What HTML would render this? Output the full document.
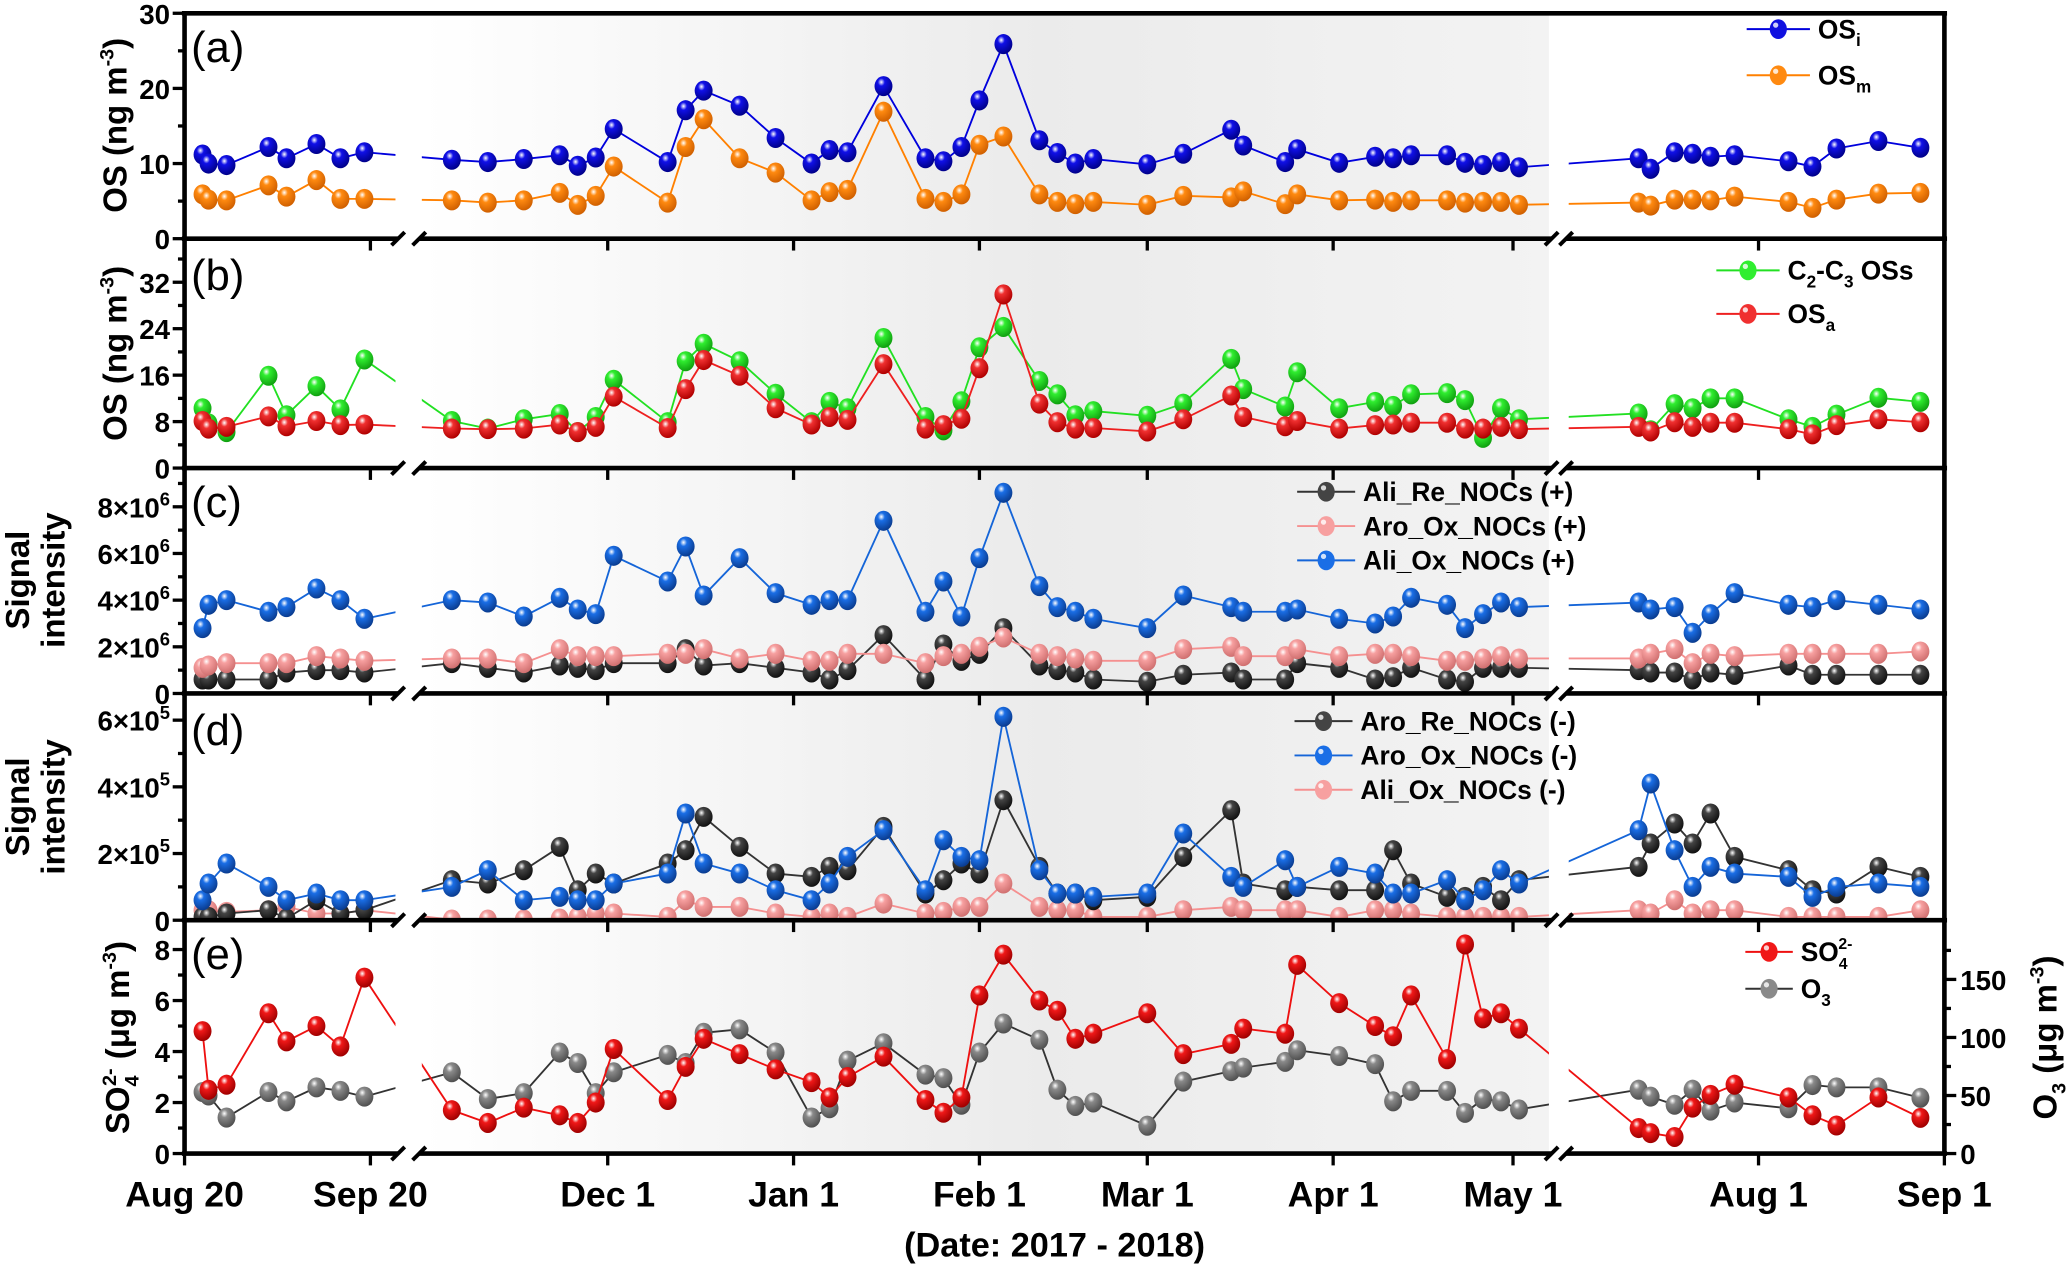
<!DOCTYPE html>
<html><head><meta charset="utf-8"><style>
html,body{margin:0;padding:0;background:#fff;}
svg{display:block;}
text{font-family:"Liberation Sans Narrow","Liberation Sans",sans-serif;}
</style></head><body>
<svg id="chart" width="2067" height="1267" viewBox="0 0 1568 961" xmlns="http://www.w3.org/2000/svg">
<defs id="defs">
<linearGradient id="bgmid" x1="0" x2="1" y1="0" y2="0">
<stop offset="0" stop-color="#ffffff"/><stop offset="0.55" stop-color="#ebebeb"/><stop offset="1" stop-color="#f3f3f3"/>
</linearGradient>
</defs>
<g id="bg"></g>
<g id="marks"></g>
<g id="axes"></g>
</svg>
<script>
// ---- data (days since 2017-08-20) ----
const dates = [3,4,7,14,17,22,26,30,
 77,83,89,95,98,101,104,113,116,119,125,131,137,140,143,149,156,159,162,165,169,175,178,181,184,193,199,207,209,216,218,225,231,234,237,243,246,249,252,255,
 326,328,332,335,338,342,351,355,359,366,373];
const tickDays = [0,31,103,134,165,193,224,254,346,377];
const tickLabels = ["Aug 20","Sep 20","Dec 1","Jan 1","Feb 1","Mar 1","Apr 1","May 1","Aug 1","Sep 1"];

const osI = [11.2,10,9.8,12.2,10.7,12.6,10.7,11.5,
 10.5,10.2,10.6,11.1,9.7,10.8,14.6,10.2,17.1,19.7,17.7,13.4,10,11.8,11.5,20.3,10.7,10.3,12.2,18.4,25.9,13.1,11.4,10,10.6,9.9,11.3,14.5,12.4,10.2,11.9,10.1,10.9,10.7,11.1,11.1,10.1,9.8,10.2,9.5,
 10.7,9.3,11.5,11.3,10.9,11.1,10.3,9.6,12,13,12.1];
const osM = [5.9,5.2,5.1,7.1,5.6,7.8,5.3,5.3,
 5.1,4.8,5.1,6.1,4.5,5.7,9.6,4.8,12.2,15.9,10.7,8.8,5.1,6.2,6.5,16.9,5.3,4.9,5.9,12.5,13.6,5.9,4.9,4.6,4.9,4.5,5.7,5.5,6.3,4.6,5.9,5.1,5.2,4.9,5.1,5.1,4.8,4.9,4.9,4.5,
 4.8,4.4,5.2,5.2,5.1,5.6,4.9,4.1,5.2,6,6.1];
const c2c3 = [10.3,7.7,6.2,15.9,9.1,14.1,10.1,18.7,
 8.1,6.8,8.4,9.3,6.2,8.8,15.2,7.9,18.4,21.4,18.4,12.8,7.9,11.4,10.3,22.4,8.8,6.5,11.5,20.8,24.3,15,12.7,9.1,9.8,9,11.1,18.8,13.6,10.6,16.5,10.3,11.4,10.7,12.7,12.9,11.7,5.2,10.3,8.4,
 9.4,6.5,11,10.3,12,12,8.4,7.1,9.2,12.1,11.4];
const osA = [8.1,6.8,7.1,8.9,7.2,8.1,7.4,7.5,
 6.8,6.7,6.8,7.5,6.2,7.1,12.3,6.9,13.6,18.6,15.9,10.3,7.5,8.8,8.3,17.9,6.8,7.4,8.5,17.2,29.9,11.1,7.9,6.8,6.9,6.3,8.4,12.5,8.8,7.2,8.1,6.8,7.4,7.5,7.8,7.8,6.8,6.8,7.1,6.7,
 7.1,6.3,7.9,7.1,7.8,7.8,6.7,5.8,7.4,8.4,7.9];
// panel c, units of 1e6
const aliReP = [0.6,0.6,0.6,0.6,0.9,1.0,1.0,0.9,
 1.3,1.1,0.9,1.2,1.1,1.0,1.3,1.3,1.9,1.2,1.3,1.1,0.9,0.6,1.0,2.5,0.6,2.1,1.4,1.7,2.8,1.2,1.0,0.9,0.6,0.5,0.8,0.9,0.6,0.6,1.3,1.1,0.6,0.7,1.1,0.6,0.5,1.1,1.1,1.1,
 1.0,0.9,0.9,0.6,0.9,0.8,1.2,0.8,0.8,0.8,0.8];
const aroOxP = [1.1,1.2,1.3,1.3,1.3,1.6,1.5,1.4,
 1.5,1.5,1.3,1.9,1.6,1.6,1.6,1.7,1.7,1.9,1.5,1.7,1.4,1.4,1.7,1.7,1.3,1.6,1.7,2.0,2.4,1.7,1.6,1.5,1.4,1.4,1.9,2.0,1.6,1.6,1.9,1.6,1.7,1.7,1.6,1.4,1.4,1.5,1.6,1.5,
 1.5,1.7,1.9,1.3,1.7,1.6,1.7,1.7,1.7,1.7,1.8];
const aliOxP = [2.8,3.8,4.0,3.5,3.7,4.5,4.0,3.2,
 4.0,3.9,3.3,4.1,3.6,3.4,5.9,4.8,6.3,4.2,5.8,4.3,3.8,4.0,4.0,7.4,3.5,4.8,3.3,5.8,8.6,4.6,3.7,3.5,3.2,2.8,4.2,3.7,3.5,3.5,3.6,3.2,3.0,3.3,4.1,3.8,2.8,3.4,3.9,3.7,
 3.9,3.6,3.7,2.6,3.4,4.3,3.8,3.7,4.0,3.8,3.6];
// panel d, units of 1e5
const aroReN = [0.1,0.1,0.2,0.3,0.05,0.6,0.2,0.3,
 1.2,1.1,1.5,2.2,0.9,1.4,1.1,1.7,2.1,3.1,2.2,1.4,1.3,1.6,1.5,2.8,0.8,1.2,1.7,1.4,3.6,1.6,0.8,0.8,0.6,0.7,1.9,3.3,1.1,0.9,1.0,0.9,0.9,2.1,1.1,0.7,0.7,1.0,0.6,1.2,
 1.6,2.3,2.9,2.3,3.2,1.9,1.5,0.9,0.8,1.6,1.3];
const aroOxN = [0.6,1.1,1.7,1.0,0.6,0.8,0.6,0.6,
 1.0,1.5,0.6,0.7,0.6,0.6,1.1,1.4,3.2,1.7,1.4,0.9,0.6,1.1,1.9,2.7,0.9,2.4,1.9,1.8,6.1,1.5,0.8,0.8,0.7,0.8,2.6,1.3,1.0,1.8,1.0,1.6,1.4,0.8,0.8,1.2,0.6,0.9,1.5,1.1,
 2.7,4.1,2.1,1.0,1.6,1.4,1.3,0.7,1.0,1.1,1.0];
const aliOxN = [0.3,0.3,0.25,0.3,0.4,0.2,0.2,0.3,
 0.02,0.02,0.02,0.05,0.1,0.2,0.2,0.1,0.6,0.4,0.4,0.2,0.1,0.2,0.1,0.5,0.2,0.25,0.4,0.4,1.1,0.4,0.3,0.3,0.1,0.1,0.3,0.4,0.3,0.3,0.3,0.1,0.3,0.3,0.2,0.1,0.1,0.1,0.1,0.1,
 0.3,0.2,0.6,0.2,0.3,0.3,0.1,0.1,0.1,0.1,0.3];
const so4 = [4.8,2.5,2.7,5.5,4.4,5.0,4.2,6.9,
 1.7,1.2,1.8,1.5,1.2,2.0,4.1,2.1,3.4,4.5,3.9,3.3,2.8,2.2,3.0,3.8,2.1,1.6,2.2,6.2,7.8,6.0,5.6,4.5,4.7,5.5,3.9,4.3,4.9,4.7,7.4,5.9,5.0,4.6,6.2,3.7,8.2,5.3,5.5,4.9,
 1.0,0.8,0.65,1.8,2.3,2.7,2.2,1.5,1.1,2.2,1.4];
const o3 = [53,50,31,53,45,57,54,49,
 70,47,52,87,78,52,70,85,78,104,107,87,31,39,80,95,68,65,42,87,112,98,55,41,44,24,62,71,74,79,89,84,77,45,54,54,35,47,45,38,
 55,49,42,55,37,44,39,59,57,57,48];

// ---- layout ----
const NS="http://www.w3.org/2000/svg";
const L=140,R=1475, PX=4.548;
const segs=[[140,300],[320,1175],[1190,1475]];
function xOf(d){ if(d<60) return 140+d*PX; if(d<300) return 461+(d-103)*PX; return 1334+(d-346)*PX; }
const panels={
 a:{top:10,bot:181,max:30},
 b:{top:181,bot:355,max:39.5},
 c:{top:355,bot:526,max:9.66},
 d:{top:526,bot:698,max:6.8},
 e:{top:698,bot:875,max:9.15},
 e2:{top:698,bot:875,max:201}
};
function yOf(p,v){const P=panels[p];return P.bot-(v/P.max)*(P.bot-P.top);}
function mk(tag,attrs,parent){const e=document.createElementNS(NS,tag);for(const k in attrs)e.setAttribute(k,attrs[k]);if(parent)parent.appendChild(e);return e;}
const defs=document.getElementById('defs'), bgG=document.getElementById('bg'), marks=document.getElementById('marks'), axes=document.getElementById('axes');

mk('rect',{x:320,y:10,width:855,height:865,fill:'url(#bgmid)'},bgG);
['a','b','c','d','e'].forEach(p=>{
 const P=panels[p]; const cp=mk('clipPath',{id:'clip-'+p},defs);
 segs.forEach(s=>mk('rect',{x:s[0],y:P.top,width:s[1]-s[0],height:P.bot-P.top},cp));
});
let gid=0;
function grad(col,dark){const id='g'+(gid++);const g=mk('radialGradient',{id:id,cx:'0.38',cy:'0.3',r:'0.7'},defs);
 mk('stop',{offset:'0','stop-color':'#ffffff'},g);mk('stop',{offset:'0.28','stop-color':col},g);mk('stop',{offset:'1','stop-color':dark},g);return id;}

function series(p,yp,vals,line,col,dark,name){
 const g=mk('g',{'clip-path':'url(#clip-'+p+')'},marks);
 
 
 const pts=vals.map((v,i)=>xOf(dates[i]).toFixed(1)+','+yOf(yp,v).toFixed(1)).join(' ');
 const pl=mk('polyline',{points:pts,fill:'none',stroke:line,'stroke-width':1.4},g);
 
 
 const gi=grad(col,dark);
 vals.forEach((v,i)=>{const c=mk('ellipse',{cx:xOf(dates[i]),cy:yOf(yp,v),rx:6.8,ry:7.6,fill:'url(#'+gi+')'},g);
  
  });
}
series('a','a',osM,'#ff8000','#ff8a10','#d06000','os-m');
series('a','a',osI,'#0000dd','#1010e8','#00008a','os-i');
series('b','b',c2c3,'#22e022','#30ee30','#10a010','c2-c3-oss');
series('b','b',osA,'#ee2020','#f03030','#b00000','os-a');
series('c','c',aliReP,'#333333','#444444','#111111','ali-re-nocs-pos');
series('c','c',aroOxP,'#f59090','#f7a0a0','#d07070','aro-ox-nocs-pos');
series('c','c',aliOxP,'#1565d8','#1a6ee6','#0a3c90','ali-ox-nocs-pos');
series('d','d',aliOxN,'#f59090','#f7a0a0','#d07070','ali-ox-nocs-neg');
series('d','d',aroReN,'#333333','#444444','#111111','aro-re-nocs-neg');
series('d','d',aroOxN,'#1565d8','#1a6ee6','#0a3c90','aro-ox-nocs-neg');
series('e','e2',o3,'#333333','#8a8a8a','#505050','o3');
series('e','e',so4,'#ee1010','#f01818','#a00000','so4');

function line(x1,y1,x2,y2,w,parent,col){return mk('line',{x1:x1,y1:y1,x2:x2,y2:y2,stroke:col||'#000','stroke-width':w},parent||axes);}
line(L,10,L,876,3.5); line(R,10,R,876,3.5); line(L-2,10,R+2,10,3.5);
['a','b','c','d','e'].forEach(p=>{
 const y=panels[p].bot;
 line(L-2,y,R+2,y,3.5);
 [[300,320],[1175,1190]].forEach(b=>{
  mk('rect',{x:b[0]+2,y:y-3,width:b[1]-b[0]-4,height:6,fill:'#fff'},axes);
  line(b[0]-3,y+5,b[0]+7,y-5,3); line(b[1]-7,y+5,b[1]+3,y-5,3);
 });
 tickDays.forEach(d=>line(xOf(d),y,xOf(d),y+9,2.5));
});
function yTicks(p,majors,minors,labels,right){
 const x=right?R:L, s=right?1:-1;
 majors.forEach((v,i)=>{const y=yOf(p,v);line(x,y,x+s*9,y,2.5);
  const t=mk('text',{x:right?x+12:x-11,y:y+8,'font-size':21,'font-weight':'bold','text-anchor':right?'start':'end'},axes);
  
  
  if(typeof labels[i]==='string'){t.textContent=labels[i];}
  else{t.textContent=labels[i][0];const sp=mk('tspan',{dy:-9,'font-size':14},t);sp.textContent=labels[i][1];}
 });
 minors.forEach(v=>{const y=yOf(p,v);line(x,y,x+s*5,y,2.5);});
}
yTicks('a',[0,10,20,30],[5,15,25],['0','10','20','30']);
yTicks('b',[0,8,16,24,32],[4,12,20,28,36],['0','8','16','24','32']);
yTicks('c',[0,2,4,6,8],[1,3,5,7,9],['0',['2×10','6'],['4×10','6'],['6×10','6'],['8×10','6']]);
yTicks('d',[0,2,4,6],[1,3,5],['0',['2×10','5'],['4×10','5'],['6×10','5']]);
yTicks('e',[0,2,4,6,8],[1,3,5,7],['0','2','4','6','8']);
yTicks('e2',[0,50,100,150],[25,75,125,175],['0','50','100','150'],true);

tickDays.forEach((d,i)=>{const t=mk('text',{x:xOf(d),y:915,'font-size':27,'font-weight':'bold','text-anchor':'middle'},axes);
 t.textContent=tickLabels[i];
 
 });

// ---- titles, labels ----
function T(x,y,txt,fs,w,anchor,rot,name){
 const t=document.createElementNS(NS,'text');
 t.setAttribute('x',x);t.setAttribute('y',y);t.setAttribute('font-size',fs);
 if(w)t.setAttribute('font-weight',w);
 t.setAttribute('text-anchor',anchor||'middle');
 if(rot)t.setAttribute('transform','rotate('+rot+' '+x+' '+y+')');
 t.innerHTML=txt;
 
 
 axes.appendChild(t);return t;
}
T(800,953,'(Date: 2017 - 2018)',26,'bold','middle',0,'x-axis-title');
T(96,95,'OS (ng m<tspan dy="-10" font-size="15">-3</tspan><tspan dy="10">)</tspan>',25,'bold','middle',-90,'y-axis-title-a');
T(96,268,'OS (ng m<tspan dy="-10" font-size="15">-3</tspan><tspan dy="10">)</tspan>',25,'bold','middle',-90,'y-axis-title-b');
T(22,440,'Signal',25,'bold','middle',-90,'y-axis-title-c-line1');
T(49,440,'intensity',25,'bold','middle',-90,'y-axis-title-c-line2');
T(22,612,'Signal',25,'bold','middle',-90,'y-axis-title-d-line1');
T(49,612,'intensity',25,'bold','middle',-90,'y-axis-title-d-line2');
T(98,787,'SO<tspan dy="7" font-size="15">4</tspan><tspan dy="-17" dx="-8" font-size="15">2-</tspan><tspan dy="10"> (μg m</tspan><tspan dy="-10" font-size="15">-3</tspan><tspan dy="10">)</tspan>',25,'bold','middle',-90,'y-axis-title-e');
T(1560,787,'O<tspan dy="7" font-size="15">3</tspan><tspan dy="-7"> (μg m</tspan><tspan dy="-10" font-size="15">-3</tspan><tspan dy="10">)</tspan>',25,'bold','middle',-90,'y-axis-title-e-right');
T(145,47,'(a)',33,null,'start',0,'panel-label-a');
T(145,220,'(b)',33,null,'start',0,'panel-label-b');
T(145,392,'(c)',33,null,'start',0,'panel-label-c');
T(145,565,'(d)',33,null,'start',0,'panel-label-d');
T(145,735,'(e)',33,null,'start',0,'panel-label-e');

function LG(x1,x2,y,col,dark,lab,name){
 const g=document.createElementNS(NS,'g');
 
 
 axes.appendChild(g);
 mk('line',{x1:x1,x2:x2,y1:y,y2:y,stroke:col,'stroke-width':1.5},g);
 mk('ellipse',{cx:(x1+x2)/2,cy:y,rx:6.5,ry:7.5,fill:dark},g);
 mk('circle',{cx:(x1+x2)/2-2,cy:y-3,r:2,fill:'#fff',opacity:0.8},g);
 const t=mk('text',{x:x2+6,y:y+7,'font-size':20,'font-weight':'bold'},g);
 t.innerHTML=lab;
}
LG(1325,1373,22,'#0000dd','#1010e0','OS<tspan dy="6" font-size="13">i</tspan>','legend-os-i');
LG(1325,1373,57,'#ff8000','#ff8a10','OS<tspan dy="6" font-size="13">m</tspan>','legend-os-m');
LG(1302,1350,205,'#22e022','#30ee30','C<tspan dy="6" font-size="13">2</tspan><tspan dy="-6">-C</tspan><tspan dy="6" font-size="13">3</tspan><tspan dy="-6"> OSs</tspan>','legend-c2-c3-oss');
LG(1302,1350,238,'#ee2020','#f03030','OS<tspan dy="6" font-size="13">a</tspan>','legend-os-a');
LG(984,1028,373,'#333','#444','Ali_Re_NOCs (+)','legend-ali-re-nocs-pos');
LG(984,1028,399,'#f59090','#f7a0a0','Aro_Ox_NOCs  (+)','legend-aro-ox-nocs-pos');
LG(984,1028,425,'#1565d8','#1a6ee6','Ali_Ox_NOCs (+)','legend-ali-ox-nocs-pos');
LG(982,1026,547,'#333','#444','Aro_Re_NOCs (-)','legend-aro-re-nocs-neg');
LG(982,1026,573,'#1565d8','#1a6ee6','Aro_Ox_NOCs (-)','legend-aro-ox-nocs-neg');
LG(982,1026,599,'#f59090','#f7a0a0','Ali_Ox_NOCs (-)','legend-ali-ox-nocs-neg');
LG(1324,1360,722,'#ee1010','#f01818','SO<tspan dy="6" font-size="12">4</tspan><tspan dy="-15" dx="-7" font-size="12">2-</tspan>','legend-so4');
LG(1324,1360,750,'#333','#8a8a8a','O<tspan dy="6" font-size="13">3</tspan>','legend-o3');
</script>
</body></html>
